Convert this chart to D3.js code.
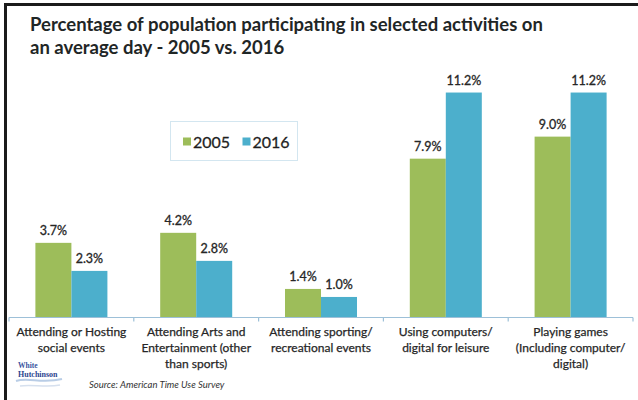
<!DOCTYPE html>
<html>
<head>
<meta charset="utf-8">
<script src="https://cdn.jsdelivr.net/npm/d3@7"></script>
<style>
  html, body { margin: 0; padding: 0; background: #fff; }
  svg { display: block; font-family: Lato, "Open Sans", sans-serif; }
</style>
</head>
<body>
<svg id="chart" width="638" height="400"></svg>
<script>
// Activities (multi-line labels) and participation rates, in percent
const categories = [
  "Attending or Hosting|social events",
  "Attending Arts and|Entertainment (other|than sports)",
  "Attending sporting/|recreational events",
  "Using computers/|digital for leisure",
  "Playing games|(Including computer/|digital)"
];
const seriesNames = ["2005", "2016"];
const values2005 = [3.7, 4.2, 1.4, 7.9, 9.0];
const values2016 = [2.3, 2.8, 1.0, 11.2, 11.2];
const titleLines = [
  "Percentage of population participating in selected activities on",
  "an average day - 2005 vs. 2016"
];
const sourceNote = "Source: American Time Use Survey";

const colors = { "2005": "#9dbd5a", "2016": "#4cafcc" };
const seriesValues = { "2005": values2005, "2016": values2016 };

const svg = d3.select("#chart");

// frame edges (top and left)
svg.append("line").attr("x1", 4).attr("x2", 638).attr("y1", 4.5).attr("y2", 4.5)
  .attr("stroke", "#1b1b1b").attr("stroke-width", 3);
svg.append("line").attr("x1", 5.5).attr("x2", 5.5).attr("y1", 3).attr("y2", 400)
  .attr("stroke", "#1b1b1b").attr("stroke-width", 3);

// title, sized so the first line spans the heading width
const title = svg.append("g");
const t1 = title.append("text").attr("x", 30).attr("y", 31)
  .attr("font-weight", 700).attr("font-size", 17).attr("fill", "#1f2626")
  .text(titleLines[0]);
const w = t1.node().getComputedTextLength();
const fs = 17 * 513 / w;
t1.attr("font-size", fs);
title.append("text").attr("x", 30).attr("y", 54)
  .attr("font-weight", 700).attr("font-size", fs).attr("fill", "#1f2626")
  .text(titleLines[1]);

// scales
const x = d3.scaleBand().domain(categories).range([9, 633])
  .paddingInner(0.423).paddingOuter(0.2115);
const xs = d3.scaleBand().domain(seriesNames).range([0, x.bandwidth()]).padding(0);
const y = d3.scaleLinear().domain([0, 12]).range([317, 76.5]);

const rows = categories.map((c, i) => ({
  cat: c,
  vals: seriesNames.map(s => ({ s, v: seriesValues[s][i] }))
}));

const groups = svg.append("g").selectAll("g").data(rows).join("g")
  .attr("transform", d => `translate(${x(d.cat)},0)`);

groups.selectAll("rect").data(d => d.vals).join("rect")
  .attr("x", d => xs(d.s))
  .attr("y", d => y(d.v))
  .attr("width", xs.bandwidth())
  .attr("height", d => y(0) - y(d.v))
  .attr("fill", d => colors[d.s]);

groups.selectAll("text.val").data(d => d.vals).join("text")
  .attr("class", "val")
  .attr("x", d => xs(d.s) + xs.bandwidth() / 2)
  .attr("y", d => y(d.v) - 8)
  .attr("text-anchor", "middle")
  .attr("font-size", 12.5)
  .attr("fill", "#262626")
  .attr("stroke", "#262626").attr("stroke-width", 0.3)
  .text(d => d.v.toFixed(1) + "%");

// category axis: baseline plus ticks between categories
const axisY = y(0) + 0.5;
const step = x.step();
svg.append("line").attr("x1", x.range()[0]).attr("x2", x.range()[1])
  .attr("y1", axisY).attr("y2", axisY)
  .attr("stroke", "#9dc0d8").attr("stroke-width", 1.2);
const bounds = categories.map(c => x(c) + x.bandwidth() / 2 - step / 2)
  .concat([x(categories[categories.length - 1]) + x.bandwidth() / 2 + step / 2]);
svg.append("g").selectAll("line").data(bounds).join("line")
  .attr("x1", d => d).attr("x2", d => d)
  .attr("y1", axisY).attr("y2", axisY + 4)
  .attr("stroke", "#9dc0d8").attr("stroke-width", 1.2);

// category labels
const labels = svg.append("g").selectAll("text").data(categories).join("text")
  .attr("text-anchor", "middle")
  .attr("font-size", 12)
  .attr("fill", "#262626")
  .attr("stroke", "#262626").attr("stroke-width", 0.25);
labels.each(function(c) {
  const cx = x(c) + x.bandwidth() / 2;
  d3.select(this).selectAll("tspan").data(c.split("|")).join("tspan")
    .attr("x", cx)
    .attr("y", (d, i) => 336 + i * 16)
    .text(d => d);
});

// legend
const legend = svg.append("g");
legend.append("rect").attr("x", 170.5).attr("y", 121.5).attr("width", 127).attr("height", 39)
  .attr("fill", "#fff").attr("stroke", "#d3e6f0").attr("stroke-width", 1);
const legendItems = [{ s: "2005", x: 183 }, { s: "2016", x: 242.5 }];
legend.selectAll("rect.sw").data(legendItems).join("rect")
  .attr("class", "sw")
  .attr("x", d => d.x).attr("y", 137.5).attr("width", 8).attr("height", 8)
  .attr("fill", d => colors[d.s]);
legend.selectAll("text").data(legendItems).join("text")
  .attr("x", d => d.x + 10).attr("y", 147.5)
  .attr("font-size", 16).attr("fill", "#1f1f1f")
  .attr("stroke", "#1f1f1f").attr("stroke-width", 0.3)
  .text(d => d.s);

// company mark
const logo = svg.append("g");
logo.append("text").attr("x", 18).attr("y", 367.5)
  .attr("font-family", "'Liberation Serif', serif").attr("font-size", 7.5)
  .attr("font-weight", 700).attr("fill", "#3b55a0").text("White");
logo.append("text").attr("x", 18).attr("y", 376.5)
  .attr("font-family", "'Liberation Serif', serif").attr("font-size", 8)
  .attr("font-weight", 700).attr("fill", "#2d4690").text("Hutchinson");
logo.append("path").attr("d", "M16,381 C28,377 42,384 62,379")
  .attr("fill", "none").attr("stroke", "#b9cde6").attr("stroke-width", 2);
logo.append("path").attr("d", "M20,386 C32,384 46,388 60,385")
  .attr("fill", "none").attr("stroke", "#d6e0ee").attr("stroke-width", 1.5);

// source note
svg.append("text").attr("x", 89).attr("y", 388)
  .attr("font-size", 9.5).attr("font-style", "italic").attr("fill", "#333")
  .text(sourceNote);
</script>
</body>
</html>
